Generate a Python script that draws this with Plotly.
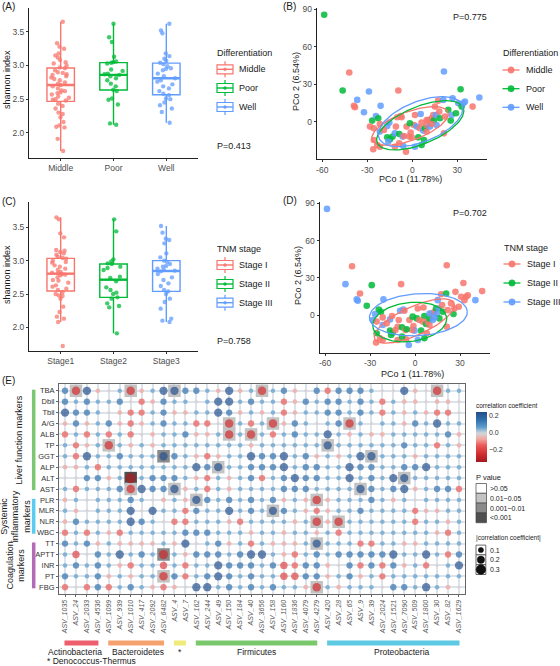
import numpy as np
import plotly.graph_objects as go

W, H = 560, 666
FONT = "Liberation Sans, Arial, Helvetica, sans-serif"


def X(px):
    return px / W


def Y(py):
    return 1 - py / H


# ---------------- Panels A / C : Shannon index ----------------
diff_groups = ["Middle", "Poor", "Well"]
diff_colors = ["#F8766D", "#00BA38", "#619CFF"]
shannon_middle = [1.73, 1.91, 2.08, 2.09, 2.11, 2.16, 2.23, 2.28, 2.30, 2.36, 2.40, 2.43, 2.48, 2.49,
                  2.50, 2.52, 2.54, 2.57, 2.59, 2.60, 2.62, 2.63, 2.66, 2.69, 2.71, 2.73, 2.75, 2.78,
                  2.80, 2.82, 2.84, 2.86, 2.87, 2.89, 2.90, 2.93, 2.96, 2.97, 3.00, 3.03, 3.05, 3.08,
                  3.12, 3.15, 3.18, 3.25, 3.28, 3.33, 3.65]
shannon_poor = [2.12, 2.14, 2.42, 2.49, 2.51, 2.62, 2.64, 2.69, 2.73, 2.78, 2.81, 2.84, 2.86, 2.87,
                2.88, 2.92, 2.94, 3.03, 3.04, 3.05, 3.06, 3.13, 3.35, 3.42, 3.62]
shannon_well = [2.15, 2.31, 2.36, 2.41, 2.45, 2.50, 2.51, 2.56, 2.58, 2.62, 2.66, 2.69, 2.72, 2.76,
                2.78, 2.81, 2.84, 2.88, 2.93, 2.95, 2.96, 2.99, 3.02, 3.04, 3.07, 3.10, 3.14, 3.18,
                3.48, 3.52, 3.62]
p_diff_shannon = "P=0.413"

stage_groups = ["Stage I", "Stage II", "Stage III"]
stage_ticks = ["Stage1", "Stage2", "Stage3"]
shannon_stage1 = [1.72, 2.08, 2.13, 2.16, 2.23, 2.31, 2.43, 2.47, 2.48, 2.50, 2.53, 2.56, 2.58, 2.61,
                  2.63, 2.67, 2.70, 2.71, 2.75, 2.78, 2.79, 2.80, 2.81, 2.82, 2.83, 2.86, 2.88, 2.91,
                  2.93, 2.97, 2.98, 3.00, 3.03, 3.04, 3.06, 3.09, 3.11, 3.13, 3.15, 3.16, 3.35, 3.41,
                  3.62, 3.65]
shannon_stage2 = [1.91, 2.30, 2.32, 2.36, 2.43, 2.45, 2.50, 2.52, 2.56, 2.60, 2.69, 2.74, 2.76, 2.86,
                  2.89, 2.91, 2.95, 2.96, 2.99, 3.02, 3.44, 3.62]
shannon_stage3 = [2.08, 2.10, 2.13, 2.28, 2.38, 2.43, 2.50, 2.54, 2.56, 2.62, 2.66, 2.71, 2.75, 2.80,
                  2.84, 2.85, 2.86, 2.88, 2.91, 2.92, 2.95, 2.98, 3.00, 3.05, 3.11, 3.26, 3.31, 3.33,
                  3.42, 3.52]
p_stage_shannon = "P=0.758"

# ---------------- Panels B / D : PCoA ----------------
pco1 = [-58.7, -42.0, -46.4, -9.3, -28.9, -36.7, -38.9, -38.2, -32.2, -21.1, -26.7, -24.2, -22.7,
        -28.2, -25.6, -21.6, -16.7, -15.3, -25.6, -23.3, -26.0, -21.6, -16.7, -14.9, -13.1, -16.0,
        -11.6, -10.9, -10.0, -7.8, -7.1, -8.7, -6.4, -6.0, -4.2, -11.6, -8.7, -1.1, -0.4, 1.8, 1.1,
        2.9, 1.8, 4.0, 5.6, 6.2, 5.1, 7.3, 8.4, 9.6, 7.8, 6.2, 9.6, 10.7, 11.8, 12.9, 14.0, 14.4,
        15.8, 16.2, 17.3, 18.0, 18.4, 20.7, 21.1, 21.8, 21.1, 24.0, 25.6, 26.9, 26.2, 29.1, 30.7,
        32.2, 32.9, 34.0, 35.1, 40.2, 44.7, 15.1, 12.9, 9.6, -3.8, -2.0, -5.6, -1.6, -21.6, -18.9]
pco2 = [85.6, 39.3, 24.9, 24.9, 24.1, 17.4, 12.6, 11.5, 7.5, 12.6, 0.8, 4.5, 2.7, -4.0, -5.3, -1.9,
        -3.5, -0.8, -14.7, -18.7, -22.2, -20.1, -12.6, -14.2, -12.0, -16.0, -9.4, -4.0, 3.5, 4.5,
        3.5, -9.9, -12.0, -19.5, -24.1, -20.1, -17.4, -8.8, -12.6, 5.3, -2.7, -4.0, -20.1, -12.6,
        6.1, -0.8, -5.3, -7.2, -5.3, -8.0, -14.7, -18.7, -2.7, 1.3, -4.0, 2.7, 5.3, 0.8, 5.3, -2.7,
        16.8, 8.0, 2.7, 17.4, 40.1, 4.0, -9.4, 9.4, 0.8, 18.7, 5.3, 6.7, 14.7, 25.9, 12.0, 14.7,
        16.0, 12.0, 19.3, 12.0, -1.9, 1.3, -4.0, -12.0, -11.5, -1.3, -8.0, -6.7]
pco_diff = ["Poor", "Middle", "Poor", "Middle", "Well", "Well", "Middle", "Middle", "Well", "Well",
            "Poor", "Well", "Poor", "Middle", "Middle", "Middle", "Well", "Well", "Middle", "Middle",
            "Middle", "Middle", "Poor", "Poor", "Poor", "Well", "Well", "Middle", "Middle", "Middle",
            "Middle", "Poor", "Well", "Well", "Middle", "Middle", "Middle", "Middle", "Middle",
            "Middle", "Middle", "Well", "Well", "Poor", "Well", "Middle", "Middle", "Well", "Poor",
            "Middle", "Poor", "Poor", "Middle", "Middle", "Well", "Middle", "Middle", "Poor", "Well",
            "Well", "Middle", "Middle", "Poor", "Well", "Well", "Middle", "Middle", "Poor", "Poor",
            "Well", "Well", "Poor", "Well", "Poor", "Poor", "Well", "Well", "Middle", "Well",
            "Middle", "Middle", "Middle", "Middle", "Middle", "Middle", "Poor", "Well", "Middle"]
pco_stage = ["Stage III", "Stage I", "Stage III", "Stage I", "Stage II", "Stage I", "Stage III",
             "Stage III", "Stage II", "Stage III", "Stage III", "Stage II", "Stage II", "Stage III",
             "Stage I", "Stage I", "Stage III", "Stage I", "Stage II", "Stage I", "Stage I", "Stage I",
             "Stage II", "Stage II", "Stage I", "Stage II", "Stage I", "Stage I", "Stage III",
             "Stage III", "Stage I", "Stage II", "Stage I", "Stage I", "Stage III", "Stage I",
             "Stage II", "Stage I", "Stage III", "Stage I", "Stage II", "Stage I", "Stage III",
             "Stage II", "Stage I", "Stage II", "Stage I", "Stage II", "Stage I", "Stage I", "Stage I",
             "Stage II", "Stage II", "Stage I", "Stage III", "Stage I", "Stage II", "Stage III",
             "Stage III", "Stage II", "Stage I", "Stage I", "Stage II", "Stage II", "Stage I",
             "Stage I", "Stage I", "Stage I", "Stage II", "Stage I", "Stage I", "Stage I", "Stage I",
             "Stage I", "Stage I", "Stage I", "Stage I", "Stage III", "Stage I", "Stage III",
             "Stage III", "Stage III", "Stage I", "Stage I", "Stage II", "Stage II", "Stage III",
             "Stage I"]
p_diff_pcoa = "P=0.775"
p_stage_pcoa = "P=0.702"
# 95% ellipses (centre x, centre y, semi-axis a, semi-axis b, angle in degrees)
ell_diff_cx = [-1.5, 5.3, 5.5]
ell_diff_cy = [-3.5, -3.0, 0.0]
ell_diff_a = [27.6, 32.0, 30.8]
ell_diff_b = [11.2, 14.5, 15.7]
ell_diff_ang = [25, 28, 28]
ell_stage_cx = [-0.5, -3.6, 2.2]
ell_stage_cy = [-4.8, -5.6, 0.3]
ell_stage_a = [30.2, 24.9, 32.7]
ell_stage_b = [11.1, 15.6, 16.9]
ell_stage_ang = [30, 10, 5]

# ---------------- Panel E : correlation bubble heatmap ----------------
asv_labels = ["ASV_1035", "ASV_24", "ASV_2033", "ASV_4536", "ASV_1099", "ASV_939", "ASV_1010",
              "ASV_417", "ASV_2092", "ASV_6482", "ASV_4", "ASV_7", "ASV_162", "ASV_244", "ASV_49",
              "ASV_150", "ASV_184", "ASV_40", "ASV_3656", "ASV_158", "ASV_1160", "ASV_1836",
              "ASV_4079", "ASV_4279", "ASV_420", "ASV_28", "ASV_65", "ASV_9", "ASV_39", "ASV_2024",
              "ASV_1521", "ASV_7090", "ASV_509", "ASV_1800", "ASV_30", "ASV_82", "ASV_1629"]
asv_phylum = (["Actinobacteria"] * 4 + ["Bacteroidetes"] * 6 + ["Denococcus-Thermus"] * 2
              + ["Firmicutes"] * 12 + ["Proteobacteria"] * 13)
phylum_colors = {"Actinobacteria": "#ee5f6e", "Bacteroidetes": "#f6a170",
                 "Denococcus-Thermus": "#f0ea78", "Firmicutes": "#7bc86c", "Proteobacteria": "#5ec9e2"}
phylum_text = {"Actinobacteria": "Actinobacteria", "Bacteroidetes": "Bacteroidetes",
               "Denococcus-Thermus": "*", "Firmicutes": "Firmicutes", "Proteobacteria": "Proteobacteria"}
# label centres, in column units
phylum_text_pos = {"Actinobacteria": 0.9, "Bacteroidetes": 6.7, "Denococcus-Thermus": 10.5,
                   "Firmicutes": 17.5, "Proteobacteria": 30.8}
markers = ["TBA", "Dbil", "Tbil", "A/G", "ALB", "TP", "GGT", "ALP", "ALT", "AST",
           "PLR", "MLR", "NLR", "WBC", "TT", "APTT", "INR", "PT", "FBG"]
marker_group = (["Liver function markers"] * 10 + ["Systemic<br>inflammatory<br>markers"] * 4
                + ["Coagulation<br>markers"] * 5)
group_colors = {"Liver function markers": "#7cc771",
                "Systemic<br>inflammatory<br>markers": "#5ccbef",
                "Coagulation<br>markers": "#b46bb6"}
group_label_x = {"Liver function markers": 18.5,
                 "Systemic<br>inflammatory<br>markers": 15,
                 "Coagulation<br>markers": 16}

corr = [
    [0.15, -0.25, 0.24, -0.08, -0.02, 0.07, -0.25, -0.08, 0.07, 0.24, 0.24, 0.15, 0.15, 0.07, -0.08, 0.24, -0.08, 0.07, -0.25,
     0.07, 0.15, -0.08, -0.02, 0.15, -0.15, 0.15, 0.15, 0.15, 0.07, -0.02, -0.02, 0.24, -0.08, -0.02, -0.25, 0.07, 0.07],
    [0.15, 0.07, 0.15, 0.07, 0.07, 0.15, -0.02, -0.15, -0.08, 0.15, 0.07, 0.07, -0.02, 0.07, 0.24, 0.24, 0.07, 0.15, 0.07,
     0.07, -0.15, -0.08, 0.15, 0.07, 0.15, 0.15, 0.07, 0.15, 0.07, -0.15, 0.07, -0.08, -0.08, -0.02, -0.08, -0.08, -0.02],
    [0.24, 0.15, 0.15, 0.07, -0.02, -0.08, -0.15, -0.15, 0.07, 0.15, -0.08, -0.08, 0.07, 0.07, 0.24, 0.15, -0.08, 0.07, -0.08,
     0.07, -0.15, -0.08, 0.07, 0.07, 0.15, 0.15, 0.07, 0.15, 0.07, -0.15, 0.07, -0.08, 0.07, -0.08, -0.15, -0.15, -0.02],
    [-0.08, 0.15, -0.08, 0.07, 0.15, -0.08, -0.15, -0.08, 0.07, 0.15, 0.07, 0.07, -0.15, -0.15, -0.02, -0.25, 0.07, -0.15, 0.07,
     -0.25, -0.08, 0.15, 0.07, -0.02, 0.07, 0.15, -0.25, 0.07, -0.02, 0.07, 0.07, -0.08, 0.15, 0.07, 0.24, 0.07, 0.07],
    [-0.15, 0.07, -0.15, 0.07, -0.15, 0.07, -0.15, -0.02, -0.08, 0.07, 0.07, 0.15, -0.08, -0.08, 0.07, -0.25, 0.07, -0.25, 0.07,
     -0.15, 0.07, 0.15, 0.07, 0.07, 0.24, 0.07, -0.08, 0.07, -0.08, -0.08, 0.07, 0.07, 0.07, 0.07, 0.07, 0.15, -0.08],
    [0.07, -0.15, -0.08, 0.07, -0.25, 0.07, -0.08, 0.07, -0.08, 0.07, 0.07, 0.07, 0.07, 0.07, 0.07, 0.07, 0.07, -0.08, 0.07,
     0.07, 0.07, 0.07, 0.07, 0.07, 0.24, 0.07, 0.07, 0.07, 0.07, 0.07, 0.07, 0.15, 0.07, 0.07, -0.15, 0.07, -0.08],
    [0.07, -0.15, 0.24, 0.07, 0.07, 0.15, 0.07, 0.07, 0.07, 0.24, 0.15, 0.07, -0.08, -0.15, -0.08, 0.07, 0.07, 0.24, 0.15,
     0.15, 0.24, 0.07, 0.15, -0.08, 0.07, -0.08, 0.07, 0.24, 0.24, 0.07, 0.07, 0.07, -0.08, 0.07, 0.07, 0.07, 0.07],
    [-0.08, -0.08, 0.07, -0.15, 0.07, 0.07, 0.07, 0.07, 0.07, 0.07, 0.07, 0.07, 0.24, 0.15, 0.24, 0.07, 0.07, 0.15, 0.15,
     0.15, 0.24, 0.07, 0.15, 0.15, 0.07, 0.07, 0.24, 0.15, 0.15, 0.07, 0.07, 0.15, 0.15, 0.24, 0.07, 0.07, 0.07],
    [-0.02, -0.02, 0.15, 0.15, -0.08, 0.07, -0.33, 0.07, 0.15, 0.15, 0.15, 0.07, -0.08, -0.15, 0.07, -0.08, 0.07, 0.15, -0.15,
     0.07, 0.15, 0.24, 0.15, 0.15, 0.07, 0.07, 0.24, 0.07, 0.15, 0.07, 0.24, 0.24, 0.07, 0.07, 0.07, 0.07, 0.07],
    [0.07, -0.15, 0.07, 0.07, 0.07, 0.15, -0.25, 0.24, 0.15, 0.15, 0.24, -0.08, 0.07, -0.15, 0.07, -0.08, 0.07, 0.07, 0.07,
     0.07, 0.15, 0.15, 0.15, 0.07, 0.07, 0.07, 0.07, 0.24, 0.15, 0.07, 0.15, 0.24, -0.08, 0.07, 0.15, 0.15, -0.15],
    [-0.08, 0.07, -0.02, 0.07, 0.07, 0.07, 0.15, 0.07, -0.02, -0.08, 0.07, -0.08, 0.24, 0.15, 0.07, 0.15, 0.07, 0.15, 0.07,
     0.15, -0.08, 0.07, -0.08, -0.25, -0.08, 0.07, 0.07, 0.07, 0.15, 0.07, -0.08, 0.07, -0.02, 0.07, 0.07, 0.07, 0.07],
    [0.07, -0.08, -0.02, 0.07, 0.07, 0.07, 0.24, -0.02, 0.24, 0.07, 0.07, -0.15, 0.15, 0.07, 0.07, 0.24, 0.07, 0.15, 0.07,
     0.24, 0.15, 0.07, -0.08, -0.15, -0.08, 0.07, 0.07, 0.15, 0.07, 0.07, 0.07, 0.07, -0.15, -0.08, -0.08, 0.07, 0.07],
    [-0.08, 0.15, 0.07, 0.07, 0.07, 0.07, 0.24, 0.15, 0.07, -0.02, -0.15, -0.15, 0.07, 0.07, 0.07, -0.08, -0.15, 0.07, 0.07,
     0.07, 0.07, -0.08, 0.07, -0.25, -0.08, -0.25, 0.07, 0.07, 0.07, 0.07, 0.07, 0.07, -0.15, 0.07, 0.07, -0.08, 0.07],
    [-0.15, 0.07, -0.15, 0.07, -0.08, -0.15, 0.07, 0.07, 0.07, 0.07, 0.07, 0.15, 0.15, 0.15, 0.07, 0.07, 0.07, -0.08, 0.07,
     0.07, -0.08, 0.07, 0.07, -0.08, 0.07, -0.15, 0.07, 0.07, 0.07, 0.07, 0.07, 0.07, 0.07, 0.07, -0.08, -0.15, 0.07],
    [0.15, 0.07, 0.15, -0.08, 0.07, -0.08, -0.08, -0.08, -0.08, 0.07, -0.08, 0.24, -0.02, 0.07, 0.15, -0.08, 0.07, -0.15, 0.07,
     -0.08, -0.08, -0.08, 0.07, 0.24, 0.07, 0.07, 0.07, -0.15, -0.15, 0.07, 0.07, -0.08, -0.08, 0.07, 0.07, 0.07, 0.07],
    [0.07, -0.20, -0.02, 0.15, 0.07, 0.24, 0.07, 0.15, 0.07, -0.27, 0.07, -0.08, 0.15, 0.15, 0.15, 0.07, 0.15, 0.24, 0.24,
     0.07, -0.08, -0.15, 0.07, 0.15, 0.07, 0.15, 0.15, 0.15, 0.15, 0.15, 0.24, 0.07, 0.07, 0.24, 0.07, -0.15, 0.15],
    [0.07, 0.15, 0.07, 0.15, 0.07, -0.08, -0.15, 0.07, 0.07, -0.20, 0.07, -0.15, 0.07, 0.07, 0.24, 0.15, 0.15, 0.15, 0.07,
     0.15, -0.20, -0.15, 0.15, 0.15, -0.08, -0.02, 0.15, -0.15, 0.15, -0.15, 0.15, -0.08, 0.07, -0.15, -0.02, 0.07, 0.24],
    [0.15, 0.07, 0.07, 0.15, -0.08, 0.07, -0.08, 0.07, 0.07, -0.25, 0.15, -0.15, 0.07, 0.15, 0.24, 0.15, 0.07, 0.15, 0.07,
     0.07, -0.20, -0.20, 0.15, 0.15, -0.08, 0.07, 0.15, -0.08, 0.07, -0.15, 0.07, 0.07, 0.07, 0.07, 0.07, 0.07, 0.07],
    [-0.15, -0.02, -0.15, 0.15, -0.15, 0.07, 0.15, 0.07, -0.08, -0.15, -0.08, -0.02, 0.24, 0.24, 0.07, 0.15, 0.07, 0.15, 0.07,
     0.15, 0.07, 0.07, -0.08, -0.25, 0.07, -0.08, 0.07, 0.07, 0.07, -0.02, 0.15, 0.15, 0.07, 0.24, 0.07, -0.08, -0.02],
]

# significant cells: marker, ASV, P-value class
sig_marker = ["TBA", "TBA", "TBA", "TBA", "TBA", "A/G", "A/G", "A/G", "ALB", "ALB", "TP", "TP",
              "GGT", "GGT", "ALP", "ALT", "ALT", "AST", "AST", "AST", "PLR", "PLR", "MLR", "NLR",
              "NLR", "TT", "APTT", "PT", "FBG"]
sig_asv = ["ASV_24", "ASV_1010", "ASV_4", "ASV_3656", "ASV_30", "ASV_150", "ASV_158", "ASV_65",
           "ASV_150", "ASV_40", "ASV_1099", "ASV_420", "ASV_6482", "ASV_39", "ASV_49", "ASV_1010",
           "ASV_7090", "ASV_1010", "ASV_4", "ASV_9", "ASV_162", "ASV_4279", "ASV_158", "ASV_4279",
           "ASV_28", "ASV_4279", "ASV_6482", "ASV_6482", "ASV_4279"]
sig_level = ["0.01~0.05"] * 29
sig_level[12] = "0.001~0.01"
sig_level[15] = "<0.001"
sig_level[26] = "0.001~0.01"

p_classes = [">0.05", "0.01~0.05", "0.001~0.01", "<0.001"]
p_fill = {">0.05": "#ffffff", "0.01~0.05": "#c3c3c3", "0.001~0.01": "#8a8a8a", "<0.001": "#4f4f4f"}
size_legend_vals = [0.1, 0.2, 0.3]

corr_scale = [[0.0, "#a3181e"], [0.167, "#d42e2f"], [0.333, "#e95b59"], [0.45, "#f2a39d"],
              [0.55, "#d8cdcd"], [0.583, "#cdd4dc"], [0.70, "#5c9ccc"], [0.833, "#3372ae"],
              [1.0, "#234d8a"]]
CMIN, CMAX = -0.35, 0.25


def dot_size(v):
    return 3 + 22 * abs(v)


def rgba(hexc, a):
    h = hexc.lstrip("#")
    return "rgba(%d,%d,%d,%.2f)" % (int(h[0:2], 16), int(h[2:4], 16), int(h[4:6], 16), a)


fig = go.Figure()
shapes, annotations = [], []


def ann(text, px, py, size=9.0, color="#1a1a1a", xanchor="left", yanchor="middle", angle=0, **kw):
    annotations.append(dict(text=text, x=X(px), y=Y(py), xref="paper", yref="paper",
                            showarrow=False, textangle=angle, xanchor=xanchor, yanchor=yanchor,
                            borderpad=0, font=dict(family=FONT, size=size, color=color), **kw))


def pline(x0, y0, x1, y1, color, width=1.0):
    shapes.append(dict(type="line", xref="paper", yref="paper", x0=X(x0), x1=X(x1),
                       y0=Y(y0), y1=Y(y1), line=dict(color=color, width=width)))


def prect(x0, y0, x1, y1, line="#333", width=1.0, fill="rgba(0,0,0,0)"):
    shapes.append(dict(type="rect", xref="paper", yref="paper", x0=X(x0), x1=X(x1),
                       y0=Y(y1), y1=Y(y0), line=dict(color=line, width=width), fillcolor=fill))


def pcircle(cx, cy, d, color, line_color=None):
    shapes.append(dict(type="circle", xref="paper", yref="paper", x0=X(cx - d / 2), x1=X(cx + d / 2),
                       y0=Y(cy + d / 2), y1=Y(cy - d / 2), fillcolor=color,
                       line=dict(color=line_color or color, width=0.5)))


# ---------------- box plots (A, C) ----------------
def add_boxes(groups, ticks, datasets, xa, ya, xref):
    for k, (g, t, vals, col) in enumerate(zip(groups, ticks, datasets, diff_colors)):
        fig.add_trace(go.Box(x=[t] * len(vals), y=vals, name=g, xaxis=xa, yaxis=ya,
                             boxpoints="all", jitter=0.75, pointpos=0, width=0.52, whiskerwidth=0,
                             line=dict(color=col, width=1.4), fillcolor="rgba(255,255,255,0)",
                             marker=dict(color=rgba(col, 0.75), size=4.4), showlegend=False,
                             hoverinfo="y"))
        med = float(np.median(vals))
        shapes.append(dict(type="line", xref=xref, yref=ya, x0=k - 0.26, x1=k + 0.26, y0=med, y1=med,
                           line=dict(color=col, width=2.4)))


add_boxes(diff_groups, diff_groups, [shannon_middle, shannon_poor, shannon_well], "x", "y", "x")
add_boxes(stage_groups, stage_ticks, [shannon_stage1, shannon_stage2, shannon_stage3], "x3", "y3", "x3")


# ---------------- PCoA (B, D) ----------------
def add_pcoa(labels, groups, ecx, ecy, ea, eb, eang, xa, ya):
    cmap = dict(zip(groups, diff_colors))
    fig.add_trace(go.Scatter(x=pco1, y=pco2, mode="markers", xaxis=xa, yaxis=ya, showlegend=False,
                             marker=dict(size=6.6, color=[cmap[g] for g in labels], opacity=0.85),
                             hoverinfo="x+y"))
    t = np.linspace(0, 2 * np.pi, 120)
    for g, cx, cy, a, b, ang in zip(groups, ecx, ecy, ea, eb, eang):
        th = np.deg2rad(ang)
        ex = cx + a * np.cos(t) * np.cos(th) - b * np.sin(t) * np.sin(th)
        ey = cy + a * np.cos(t) * np.sin(th) + b * np.sin(t) * np.cos(th)
        fig.add_trace(go.Scatter(x=ex, y=ey, mode="lines", xaxis=xa, yaxis=ya, showlegend=False,
                                 line=dict(color=cmap[g], width=1.3), hoverinfo="skip"))


add_pcoa(pco_diff, diff_groups, ell_diff_cx, ell_diff_cy, ell_diff_a, ell_diff_b, ell_diff_ang, "x2", "y2")
add_pcoa(pco_stage, stage_groups, ell_stage_cx, ell_stage_cy, ell_stage_a, ell_stage_b, ell_stage_ang,
         "x4", "y4")

# ---------------- bubble heatmap (E) ----------------
sx = [asv_labels.index(a) for a in sig_asv]
sy = [markers.index(m) for m in sig_marker]
fig.add_trace(go.Scatter(x=sx, y=sy, mode="markers", xaxis="x5", yaxis="y5", showlegend=False,
                         marker=dict(symbol="square", size=12.5, color=[p_fill[l] for l in sig_level],
                                     line=dict(width=0)), hoverinfo="skip"))
hx, hy, hv = [], [], []
for j, row in enumerate(corr):
    for i, v in enumerate(row):
        hx.append(i)
        hy.append(j)
        hv.append(v)
fig.add_trace(go.Scatter(
    x=hx, y=hy, mode="markers", xaxis="x5", yaxis="y5", showlegend=False,
    marker=dict(size=[dot_size(v) for v in hv], color=hv, colorscale=corr_scale, cmin=CMIN, cmax=CMAX,
                line=dict(width=0), showscale=True,
                colorbar=dict(x=X(476), xanchor="left", y=Y(411.7), yanchor="top", len=50,
                              lenmode="pixels", thickness=11, thicknessmode="pixels", xpad=0, ypad=0,
                              outlinewidth=0, ticks="", tickvals=[-0.2, 0.0, 0.2],
                              ticktext=["\u22120.2", "0.0", "0.2"],
                              tickfont=dict(family=FONT, size=7, color="#333"))),
    hoverinfo="skip"))

# ---------------- axes ----------------
tickf = dict(family=FONT, size=8.5, color="#4d4d4d")
axline = dict(showline=True, linecolor="#222", linewidth=1, ticks="outside", ticklen=2,
              tickcolor="#333", tickwidth=1, showgrid=False, zeroline=False, tickfont=tickf,
              automargin=False)
layout = dict(
    width=W, height=H, margin=dict(l=0, r=0, t=0, b=0), paper_bgcolor="white",
    plot_bgcolor="white", showlegend=False, boxmode="overlay",
    xaxis=dict(domain=[X(29), X(198)], anchor="y", type="category", categoryorder="array",
               categoryarray=diff_groups, range=[-0.6, 2.6], **axline),
    yaxis=dict(domain=[Y(157.7), Y(8.3)], anchor="x", range=[1.63, 3.85], tickvals=[2.0, 2.5, 3.0, 3.5],
               tickformat=".1f", **axline),
    xaxis3=dict(domain=[X(29), X(198)], anchor="y3", type="category", categoryorder="array",
                categoryarray=stage_ticks, range=[-0.6, 2.6], **axline),
    yaxis3=dict(domain=[Y(351), Y(202)], anchor="x3", range=[1.645, 3.88],
                tickvals=[2.0, 2.5, 3.0, 3.5], tickformat=".1f", **axline),
    xaxis2=dict(domain=[X(316.7), X(486.7)], anchor="y2", range=[-63.7, 49.6],
                tickvals=[-60, -30, 0, 30], ticktext=["-60", "-30", "0", "30"], **axline),
    yaxis2=dict(domain=[Y(159.3), Y(8)], anchor="x2", range=[-30.2, 91], tickvals=[0, 30, 60, 90],
                **axline),
    xaxis4=dict(domain=[X(319.5), X(489.5)], anchor="y4", range=[-63.7, 49.6],
                tickvals=[-60, -30, 0, 30], ticktext=["-60", "-30", "0", "30"], **axline),
    yaxis4=dict(domain=[Y(352.5), Y(202.2)], anchor="x4", range=[-30.2, 91], tickvals=[0, 30, 60, 90],
                **axline),
    xaxis5=dict(domain=[X(59), X(465)], anchor="y5", range=[-0.55, 36.55],
                tickvals=list(range(len(asv_labels))), ticktext=asv_labels, tickangle=-90,
                tickfont=dict(family=FONT, size=7, color="#555", style="italic"),
                showgrid=True, gridcolor="#dde3ea", gridwidth=1.6, zeroline=False,
                showline=True, mirror=True, linecolor="#666", linewidth=1, ticks="outside",
                ticklen=2, tickcolor="#666", automargin=False),
    yaxis5=dict(domain=[Y(594), Y(384)], anchor="x5", range=[18.62, -0.62],
                tickvals=list(range(len(markers))), ticktext=markers,
                tickfont=dict(family=FONT, size=7.5, color="#333"),
                showgrid=True, gridcolor="#dde3ea", gridwidth=1.6, zeroline=False,
                showline=True, mirror=True, linecolor="#666", linewidth=1, ticks="outside",
                ticklen=2, tickcolor="#666", automargin=False),
)

# ---------------- text & legends A-D ----------------
LS = 9
ann("(A)", 1, 6, size=10)
ann("(B)", 282, 6, size=10)
ann("(C)", 1, 201, size=10)
ann("(D)", 282, 200, size=10)
ann("(E)", 1, 380, size=10)
ann("shannon index", 7, 80, size=9, angle=-90, xanchor="center")
ann("shannon index", 7, 275, size=9, angle=-90, xanchor="center")
ann("PCo 2 (6.54%)", 296, 82, size=9, angle=-90, xanchor="center")
ann("PCo 2 (6.54%)", 298, 276, size=9, angle=-90, xanchor="center")
ann("PCo 1 (11.78%)", 410, 178.5, size=9, xanchor="center")
ann("PCo 1 (11.78%)", 412, 373.5, size=9, xanchor="center")
ann(p_diff_shannon, 216, 146, size=LS)
ann(p_stage_shannon, 216, 340.7, size=LS)
ann(p_diff_pcoa, 488, 17, size=LS, xanchor="right")
ann(p_stage_pcoa, 488, 213, size=LS, xanchor="right")


def box_legend(title, groups, tx, ty, ys):
    ann(title, tx, ty, size=LS)
    for g, col, yy in zip(groups, diff_colors, ys):
        cx = tx + 9
        prect(cx - 8, yy - 4.5, cx + 8, yy + 4.5, line=col, width=1.2)
        pline(cx - 8, yy, cx + 8, yy, col, 1.4)
        pline(cx, yy - 4.5, cx, yy - 8, col, 1.2)
        pline(cx, yy + 4.5, cx, yy + 8, col, 1.2)
        pcircle(cx, yy, 3, rgba(col, 0.8))
        ann(g, tx + 22, yy, size=LS)


def point_legend(title, groups, tx, ty, ys):
    ann(title, tx, ty, size=LS)
    for g, col, yy in zip(groups, diff_colors, ys):
        cx = tx + 9
        pline(cx - 8.5, yy, cx + 8.5, yy, col, 1.3)
        pcircle(cx, yy, 6.4, rgba(col, 0.9))
        ann(g, tx + 23, yy, size=LS)


box_legend("Differentiation", diff_groups, 216, 53, [69.3, 88, 107])
box_legend("TNM stage", stage_groups, 216, 249, [265, 284, 302.7])
point_legend("Differentiation", diff_groups, 502, 53, [70, 88.7, 107.3])
point_legend("TNM stage", stage_groups, 503, 248, [264, 283, 302])

# ---------------- heatmap decorations ----------------
for g in dict.fromkeys(marker_group):
    idx = [k for k, mg in enumerate(marker_group) if mg == g]
    shapes.append(dict(type="line", xref="paper", yref="y5", x0=X(33.7), x1=X(33.7),
                       y0=idx[0] - 0.1, y1=idx[-1] + 0.1, line=dict(color=group_colors[g], width=3.5)))
    annotations.append(dict(text=g, x=X(group_label_x[g]), y=(idx[0] + idx[-1]) / 2, xref="paper",
                            yref="y5", showarrow=False, textangle=-90, xanchor="center",
                            yanchor="middle", borderpad=0,
                            font=dict(family=FONT, size=9, color="#1a1a1a")))

for ph in dict.fromkeys(asv_phylum):
    idx = [k for k, p in enumerate(asv_phylum) if p == ph]
    shapes.append(dict(type="rect", xref="x5", yref="paper", x0=idx[0] - 0.05, x1=idx[-1] + 0.05,
                       y0=Y(645.5), y1=Y(640.5), line=dict(width=0), fillcolor=phylum_colors[ph]))
    annotations.append(dict(text=phylum_text[ph], x=phylum_text_pos[ph], y=Y(652), xref="x5",
                            yref="paper", showarrow=False, xanchor="center", yanchor="middle",
                            borderpad=0, font=dict(family=FONT, size=8.5, color="#1a1a1a")))
ann("* Denococcus-Thermus", 46, 661, size=8.5)

# E legends
ann("correlation coefficient", 475, 405, size=6.5)
ann("P value", 475, 477, size=7.5)
for k, pc in enumerate(p_classes):
    y0 = 483.5 + k * 9.8
    prect(476, y0, 486.5, y0 + 9.8, line="#444", width=0.7, fill=p_fill[pc])
    ann(pc, 489, y0 + 4.9, size=7)
ann("|correlation coefficient|", 475, 537.5, size=6.5)
for k, v in enumerate(size_legend_vals):
    cy = 550 + k * 9.8
    prect(476, cy - 4.9, 485.8, cy + 4.9, line="#444", width=0.8, fill="white")
    pcircle(480.9, cy, dot_size(v), "#111111")
    ann(str(v), 489, cy, size=7)

layout["shapes"] = shapes
layout["annotations"] = annotations
fig.update_layout(**layout)
fig.update_layout(font=dict(family=FONT))
fig.write_html("out.html", config={"displayModeBar": False},
               post_script="document.body.style.margin='0';document.body.style.overflow='hidden';")
